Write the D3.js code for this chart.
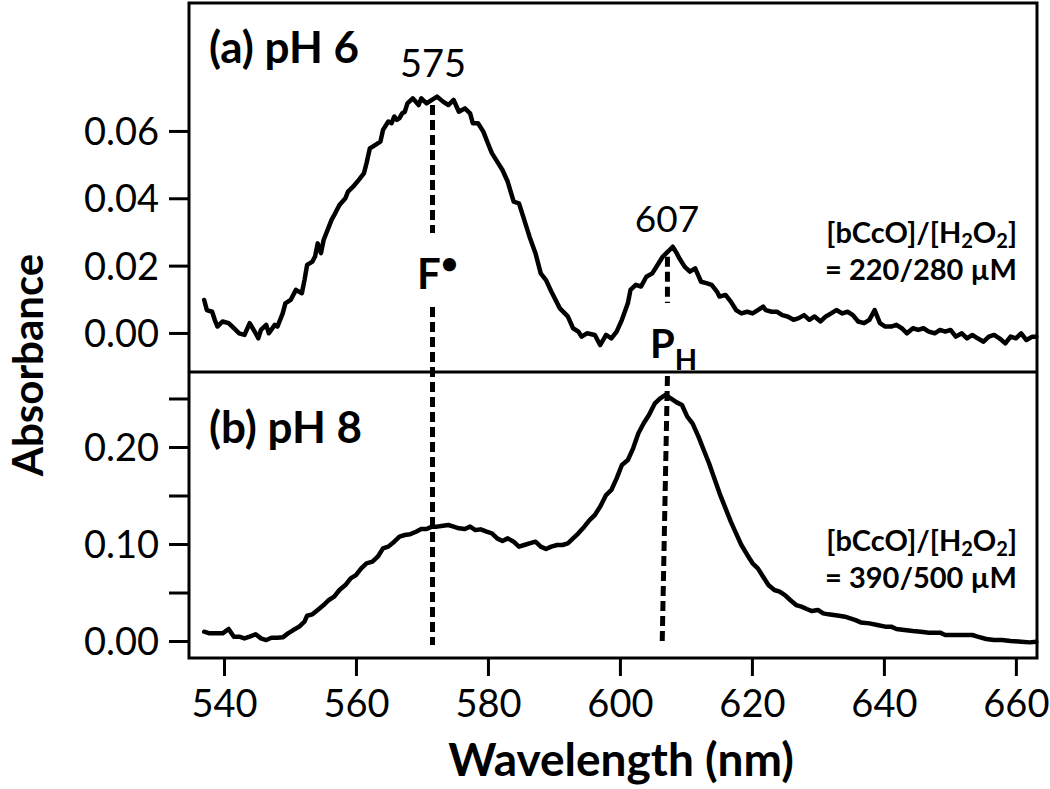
<!DOCTYPE html>
<html>
<head>
<meta charset="utf-8">
<script src="https://cdn.jsdelivr.net/npm/d3@7"></script>
<style>
  html, body { margin: 0; padding: 0; background: #fff; }
  svg { display: block; }
  text { font-family: Lato, "Open Sans", sans-serif; fill: #000; }
</style>
</head>
<body>
<svg id="chart" width="1050" height="789"></svg>
<script>
// ---------- DATA ----------
const wavelengthA = [537.0,537.4,538.2,538.6,539.0,539.8,540.7,541.5,542.3,543.1,543.9,544.8,545.2,545.6,546.4,546.8,547.7,548.1,548.9,549.3,550.1,550.9,551.8,552.2,552.6,553.4,553.8,554.2,554.7,555.1,555.9,556.3,556.7,557.5,558.4,558.8,559.6,560.4,561.2,561.6,562.1,562.9,563.7,564.1,564.9,565.4,565.8,566.2,566.6,567.0,567.4,567.8,568.6,569.5,569.9,570.7,571.5,572.3,573.2,574.0,574.8,575.6,576.5,577.3,577.7,578.5,579.3,580.2,580.6,581.4,582.2,583.0,583.9,584.7,585.5,586.3,587.2,588.0,588.8,589.6,590.9,592.1,592.9,593.7,594.2,595.0,596.2,597.0,597.9,598.7,599.5,600.3,601.2,601.6,602.4,603.2,604.0,604.9,605.7,606.5,607.3,608.0,608.6,609.0,609.8,610.6,611.4,612.3,613.1,613.9,614.7,615.1,616.0,616.8,617.6,618.4,619.3,620.1,620.9,621.7,622.1,623.0,623.8,624.6,625.4,626.3,627.1,627.9,628.7,629.5,630.4,631.2,632.0,632.8,633.7,634.5,635.3,636.1,637.0,637.8,638.6,639.4,640.2,641.1,641.9,642.7,643.5,644.4,645.2,646.0,646.8,647.7,648.5,649.3,650.1,650.9,651.8,652.6,653.4,654.2,655.1,655.9,656.7,657.5,658.4,659.2,660.0,660.8,661.6,662.5,663.1];
const absorbanceA = [0.0098,0.0068,0.0063,0.0039,0.0019,0.0034,0.0029,0.0014,-0.0001,-0.0006,0.0029,-0.0001,-0.0016,0.0009,0.0024,-0.0001,0.0024,0.0019,0.0058,0.0088,0.0098,0.0128,0.0118,0.0157,0.0202,0.0212,0.0227,0.0266,0.0237,0.0276,0.0316,0.0336,0.0350,0.0380,0.0400,0.0420,0.0435,0.0454,0.0474,0.0504,0.0548,0.0558,0.0568,0.0603,0.0628,0.0623,0.0643,0.0633,0.0638,0.0652,0.0657,0.0682,0.0697,0.0677,0.0697,0.0682,0.0692,0.0702,0.0687,0.0677,0.0692,0.0657,0.0667,0.0652,0.0623,0.0623,0.0598,0.0553,0.0534,0.0509,0.0484,0.0449,0.0390,0.0385,0.0336,0.0286,0.0237,0.0177,0.0157,0.0123,0.0073,0.0049,0.0014,0.0004,-0.0011,-0.0001,-0.0006,-0.0036,-0.0006,-0.0016,0.0004,0.0039,0.0088,0.0128,0.0143,0.0138,0.0167,0.0177,0.0202,0.0227,0.0242,0.0256,0.0237,0.0222,0.0197,0.0182,0.0192,0.0152,0.0148,0.0143,0.0123,0.0108,0.0113,0.0093,0.0068,0.0058,0.0063,0.0058,0.0068,0.0078,0.0068,0.0063,0.0063,0.0053,0.0049,0.0039,0.0044,0.0053,0.0039,0.0049,0.0034,0.0049,0.0058,0.0068,0.0058,0.0063,0.0053,0.0034,0.0029,0.0039,0.0068,0.0029,0.0019,0.0019,0.0024,0.0014,-0.0001,0.0014,0.0009,0.0014,0.0004,-0.0001,0.0009,0.0004,0.0009,-0.0011,-0.0001,-0.0016,-0.0006,-0.0016,-0.0026,-0.0011,-0.0006,-0.0016,-0.0031,-0.0011,-0.0016,-0.0001,-0.0021,-0.0011,-0.0011];

const wavelengthB = [537.0,537.8,539.0,539.8,540.7,541.5,542.3,543.1,543.9,544.8,545.6,546.4,547.2,548.1,548.9,549.7,550.5,551.4,552.2,552.6,553.4,554.2,555.1,555.9,556.7,557.5,558.4,559.2,560.0,560.8,561.6,562.5,563.3,564.1,564.9,565.8,566.6,567.4,568.2,569.1,569.9,570.7,571.5,572.3,573.2,574.0,574.8,575.6,576.5,577.3,578.1,578.9,579.8,580.6,581.4,582.2,583.0,583.9,584.7,585.5,586.3,587.2,588.0,588.8,589.6,590.5,591.3,592.1,592.9,593.7,594.6,595.4,596.2,597.0,597.9,598.7,599.5,600.3,601.2,602.0,602.8,603.6,604.4,605.3,606.1,606.9,607.7,608.6,609.4,610.2,611.0,611.9,612.7,613.5,614.3,615.1,616.0,616.8,617.6,618.4,619.3,620.1,620.9,621.7,622.5,623.4,624.2,625.0,625.8,626.7,627.5,628.3,629.1,630.0,630.8,631.6,632.4,633.2,634.1,634.9,635.7,636.5,637.8,639.0,640.2,641.1,641.9,643.1,644.4,645.6,646.8,648.5,649.3,650.1,651.8,653.4,654.2,655.5,656.7,657.9,659.2,660.8,662.1,663.1];
const absorbanceB = [0.0096,0.0079,0.0079,0.0079,0.0124,0.0045,0.0045,0.0027,0.0045,0.0069,0.0027,0.0010,0.0034,0.0034,0.0038,0.0079,0.0113,0.0148,0.0199,0.0261,0.0275,0.0320,0.0371,0.0423,0.0457,0.0526,0.0577,0.0646,0.0680,0.0749,0.0801,0.0818,0.0869,0.0955,0.0973,0.1024,0.1076,0.1093,0.1100,0.1127,0.1155,0.1155,0.1179,0.1179,0.1189,0.1196,0.1179,0.1162,0.1155,0.1179,0.1144,0.1151,0.1127,0.1110,0.1058,0.1031,0.1058,0.1024,0.0973,0.0990,0.1007,0.1024,0.0973,0.0948,0.0973,0.0990,0.0990,0.1007,0.1058,0.1110,0.1179,0.1247,0.1299,0.1385,0.1505,0.1557,0.1677,0.1814,0.1866,0.1986,0.2141,0.2244,0.2330,0.2450,0.2502,0.2536,0.2502,0.2460,0.2433,0.2313,0.2244,0.2107,0.1969,0.1832,0.1677,0.1522,0.1368,0.1230,0.1110,0.0990,0.0887,0.0801,0.0749,0.0663,0.0577,0.0526,0.0509,0.0474,0.0423,0.0371,0.0354,0.0330,0.0309,0.0320,0.0285,0.0275,0.0268,0.0261,0.0251,0.0234,0.0216,0.0192,0.0182,0.0165,0.0148,0.0148,0.0124,0.0113,0.0103,0.0096,0.0086,0.0086,0.0062,0.0062,0.0062,0.0062,0.0045,0.0021,0.0010,0.0010,0.0000,-0.0007,-0.0014,-0.0007];

const xTickValues = [540, 560, 580, 600, 620, 640, 660];
const yTopTickValues = [0.00, 0.02, 0.04, 0.06];
const yBotTickValues = [0.00, 0.05, 0.10, 0.15, 0.20, 0.25];
const yBotLabelValues = [0.00, 0.10, 0.20];

const xDomain = [534.7, 663.2];
const yTopDomain = [-0.0116, 0.098];
const yBotDomain = [-0.0175, 0.2773];

// marker lines: [wavelength, absorbance] endpoints
const fLineTopA = [[571.6, 0.0677], [571.6, 0.0297]];
const fLineLowA = [571.6, 0.0077];   // continues down into panel b
const fLineEndB = [571.6, -0.004];
const pLineTopA = [[607.2, 0.0226], [607.2, 0.0089]];
const pLineB = [[607.2, 0.2773], [606.4, -0.004]];

// ---------- LAYOUT ----------
const L = 189, R = 1037, T = 3, MID = 372, B = 658;
const svg = d3.select("#chart");

const x = d3.scaleLinear().domain(xDomain).range([L, R]);
const yTop = d3.scaleLinear().domain(yTopDomain).range([MID, T]);
const yBot = d3.scaleLinear().domain(yBotDomain).range([B, MID]);

const dataA = wavelengthA.map((w, i) => [w, absorbanceA[i]]);
const dataB = wavelengthB.map((w, i) => [w, absorbanceB[i]]);

// curves
const lineA = d3.line().x(d => x(d[0])).y(d => yTop(d[1]));
const lineB = d3.line().x(d => x(d[0])).y(d => yBot(d[1]));

svg.append("path").datum(dataA).attr("d", lineA)
  .attr("fill", "none").attr("stroke", "#000").attr("stroke-width", 4.5)
  .attr("stroke-linejoin", "round").attr("stroke-linecap", "round");
svg.append("path").datum(dataB).attr("d", lineB)
  .attr("fill", "none").attr("stroke", "#000").attr("stroke-width", 4.5)
  .attr("stroke-linejoin", "round").attr("stroke-linecap", "round");

// dashed marker lines
function dashed(x1, y1, x2, y2) {
  svg.append("line").attr("x1", x1).attr("y1", y1).attr("x2", x2).attr("y2", y2)
    .attr("stroke", "#000").attr("stroke-width", 5).attr("stroke-dasharray", "10,5");
}
dashed(x(fLineTopA[0][0]), yTop(fLineTopA[0][1]), x(fLineTopA[1][0]), yTop(fLineTopA[1][1]));
dashed(x(fLineLowA[0]), yTop(fLineLowA[1]), x(fLineEndB[0]), yBot(fLineEndB[1]));
dashed(x(pLineTopA[0][0]), yTop(pLineTopA[0][1]), x(pLineTopA[1][0]), yTop(pLineTopA[1][1]));
dashed(x(pLineB[0][0]), yBot(pLineB[0][1]) + 4, x(pLineB[1][0]), yBot(pLineB[1][1]));

// frame
svg.append("rect").attr("x", L).attr("y", T).attr("width", R - L).attr("height", B - T)
  .attr("fill", "none").attr("stroke", "#000").attr("stroke-width", 3);
svg.append("line").attr("x1", L).attr("x2", R).attr("y1", MID).attr("y2", MID)
  .attr("stroke", "#000").attr("stroke-width", 3);

// axes
const fmt = d3.format(".2f");
const xAxis = svg.append("g").attr("transform", `translate(0,${B})`)
  .call(d3.axisBottom(x).tickValues(xTickValues).tickSize(18).tickPadding(12).tickFormat(d3.format("d")));
const yAxisTop = svg.append("g").attr("transform", `translate(${L},0)`)
  .call(d3.axisLeft(yTop).tickValues(yTopTickValues).tickSize(20).tickPadding(10).tickFormat(fmt));
const yAxisBot = svg.append("g").attr("transform", `translate(${L},0)`)
  .call(d3.axisLeft(yBot).tickValues(yBotTickValues).tickSize(20).tickPadding(10)
    .tickFormat(d => yBotLabelValues.some(v => Math.abs(v - d) < 1e-9) ? fmt(d) : ""));

[xAxis, yAxisTop, yAxisBot].forEach(g => {
  g.select(".domain").remove();
  g.selectAll(".tick line").attr("stroke", "#000").attr("stroke-width", 3);
  g.selectAll(".tick text").attr("font-size", 38).attr("font-family", "Lato").attr("fill", "#000");
});
xAxis.selectAll(".tick text").attr("dy", "0.75em");
yAxisTop.selectAll(".tick text").attr("dy", "0.36em");
yAxisBot.selectAll(".tick text").attr("dy", "0.36em");

// axis titles
svg.append("text").attr("x", 621).attr("y", 776).attr("text-anchor", "middle")
  .attr("font-size", 46).attr("font-weight", "bold").text("Wavelength (nm)");
svg.append("text").attr("transform", "translate(43,365) rotate(-90)").attr("text-anchor", "middle")
  .attr("font-size", 42).attr("font-weight", "bold").text("Absorbance");

// panel labels
svg.append("text").attr("x", 209).attr("y", 63).attr("font-size", 44).attr("font-weight", "bold").text("(a) pH 6");
svg.append("text").attr("x", 209).attr("y", 443).attr("font-size", 44).attr("font-weight", "bold").text("(b) pH 8");

// peak labels
svg.append("text").attr("x", 433).attr("y", 77).attr("text-anchor", "middle").attr("font-size", 38).text("575");
svg.append("text").attr("x", 667).attr("y", 232).attr("text-anchor", "middle").attr("font-size", 37).text("607");

// F• label
const fl = svg.append("text").attr("x", 417).attr("y", 289).attr("font-size", 42).attr("font-weight", "bold");
fl.append("tspan").text("F");
fl.append("tspan").attr("font-size", 30).attr("dy", -15).text("•");

// P_H label
const pl = svg.append("text").attr("x", 650).attr("y", 358).attr("font-size", 40).attr("font-weight", "bold");
pl.append("tspan").text("P");
pl.append("tspan").attr("font-size", 29).attr("dy", 12).text("H");

// concentration labels
function concLabel(y1, y2, ratio) {
  const t1 = svg.append("text").attr("x", 1017).attr("y", y1).attr("text-anchor", "end")
    .attr("font-size", 29).attr("font-weight", "bold");
  t1.append("tspan").text("[bCcO]/[H");
  t1.append("tspan").attr("font-size", 20).attr("dy", 5).text("2");
  t1.append("tspan").attr("dy", -5).text("O");
  t1.append("tspan").attr("font-size", 20).attr("dy", 5).text("2");
  t1.append("tspan").attr("dy", -5).text("]");
  svg.append("text").attr("x", 1017).attr("y", y2).attr("text-anchor", "end")
    .attr("font-size", 29).attr("font-weight", "bold").text(ratio);
}
concLabel(243, 280, "= 220/280 µM");
concLabel(551, 588, "= 390/500 µM");
</script>
</body>
</html>
